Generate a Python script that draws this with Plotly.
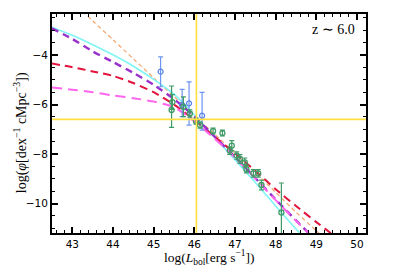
import plotly.graph_objects as go

# ---- data ----
cyan_x = [42.5, 43.0, 43.5, 44.0, 44.5, 45.0, 45.5, 46.0, 46.5, 47.0, 47.5, 48.0, 48.5, 48.8]
cyan_y = [-2.87, -3.20, -3.58, -3.99, -4.45, -4.98, -5.58, -6.42, -7.33, -8.23, -9.15, -10.10, -11.03, -11.55]

purple_x = [42.5, 43.0, 43.5, 44.0, 44.5, 45.0, 45.5, 46.0, 46.5, 47.0, 47.5, 48.0, 48.5, 49.0]
purple_y = [-2.92, -3.35, -3.85, -4.28, -4.72, -5.20, -5.78, -6.48, -7.30, -8.12, -8.97, -9.84, -10.68, -11.50]

orange_x = [43.0, 43.5, 44.0, 44.5, 45.0, 45.5, 46.0, 46.5, 47.0, 47.5, 48.0, 48.5, 49.0, 49.3]
orange_y = [-1.85, -2.62, -3.38, -4.15, -4.92, -5.68, -6.45, -7.20, -7.97, -8.75, -9.55, -10.35, -11.10, -11.55]

crimson_x = [42.5, 43.0, 43.5, 44.0, 44.5, 45.0, 45.5, 46.0, 46.5, 47.0, 47.5, 48.0, 48.5, 49.0, 49.6]
crimson_y = [-4.34, -4.49, -4.66, -4.84, -5.13, -5.50, -6.00, -6.62, -7.30, -7.98, -8.68, -9.42, -10.10, -10.75, -11.5]

pink_x = [42.5, 43.0, 43.5, 44.0, 44.5, 45.0, 45.5, 46.0, 46.5, 47.0, 47.5, 48.0, 48.5, 49.0]
pink_y = [-5.31, -5.40, -5.50, -5.63, -5.74, -5.88, -6.10, -6.68, -7.38, -8.15, -8.99, -9.86, -10.70, -11.52]

blue_x = [45.17, 45.70, 45.87, 46.19]
blue_y = [-4.67, -6.02, -5.95, -6.45]
blue_up = [0.60, 0.63, 0.87, 0.94]
blue_dn = [0.61, 0.47, 0.88, 0.58]

green_x = [45.46, 45.44, 45.73, 45.89, 46.04, 46.14, 46.46, 46.69, 46.92, 46.87, 47.04, 47.12, 47.24, 47.28, 47.45, 47.57, 47.65, 48.14]
green_y = [-5.90, -6.22, -6.09, -6.36, -6.67, -6.83, -7.07, -7.15, -7.66, -7.86, -8.06, -8.20, -8.34, -8.61, -8.78, -8.78, -9.25, -10.36]
green_up = [0.30, 0.97, 0.40, 0.15, 0.12, 0.12, 0.12, 0.12, 0.20, 0.15, 0.15, 0.18, 0.18, 0.15, 0.15, 0.15, 0.20, 1.19]
green_dn = [0.30, 0.70, 0.40, 0.15, 0.12, 0.12, 0.12, 0.12, 0.20, 0.15, 0.15, 0.18, 0.18, 0.15, 0.15, 0.15, 0.20, 1.20]

vline_x = 46.05
hline_y = -6.6
label_text = "z ∼ 6.0"
x_title = "log(<i>L</i><sub>bol</sub>[erg s<sup>−1</sup>])"
y_title = "log(<i>φ</i>[dex<sup>−1</sup> cMpc<sup>−3</sup>])"

fig = go.Figure()

def curve(x, y, color, width, dash):
    fig.add_trace(go.Scatter(x=x, y=y, mode="lines",
                             line=dict(color=color, width=width, dash=dash, shape="spline", smoothing=0.6),
                             hoverinfo="skip", showlegend=False))

curve(orange_x, orange_y, "#F4A46A", 1.2, "4px,3px")
curve(cyan_x, cyan_y, "#7FF5F5", 1.6, "solid")
curve(crimson_x, crimson_y, "#E0143C", 2.0, "8px,5px")
curve(purple_x, purple_y, "#9932CC", 2.4, "7px,5px")
curve(pink_x, pink_y, "#FF66EE", 2.0, "10px,6px")

fig.add_trace(go.Scatter(x=blue_x, y=blue_y, mode="markers",
                         marker=dict(symbol="circle-open", size=5, color="#5580E8", line=dict(width=1.2)),
                         error_y=dict(type="data", array=blue_up, arrayminus=blue_dn, color="#6E95F0",
                                      thickness=1.2, width=2.5),
                         showlegend=False))
fig.add_trace(go.Scatter(x=green_x, y=green_y, mode="markers",
                         marker=dict(symbol="circle-open", size=5, color="#3E9A66", line=dict(width=1.3)),
                         error_y=dict(type="data", array=green_up, arrayminus=green_dn, color="#3E9A66",
                                      thickness=1.2, width=2.5),
                         showlegend=False))

fig.add_shape(type="line", xref="x", yref="paper", x0=vline_x, x1=vline_x, y0=0, y1=1,
              line=dict(color="#FFE040", width=1.6), layer="above")
fig.add_shape(type="line", xref="paper", yref="y", x0=0, x1=1, y0=hline_y, y1=hline_y,
              line=dict(color="#FFE040", width=1.6), layer="above")

fig.add_annotation(x=0.97, y=0.93, xref="paper", yref="paper", text=label_text, showarrow=False,
                   xanchor="right", yanchor="middle",
                   font=dict(family="Liberation Serif, serif", size=14, color="black"))
fig.add_annotation(x=0.5, y=-0.112, xref="paper", yref="paper", text=x_title, showarrow=False,
                   xanchor="center", yanchor="middle",
                   font=dict(family="Liberation Serif, serif", size=13.5, color="black"))
fig.add_annotation(x=-0.102, y=0.46, xref="paper", yref="paper", text=y_title, showarrow=False,
                   xanchor="center", yanchor="middle", textangle=-90,
                   font=dict(family="Liberation Serif, serif", size=14, color="black"))

axis_common = dict(showgrid=False, zeroline=False, showline=True, linecolor="black", linewidth=2,
                   mirror="ticks", ticks="inside", ticklen=6, tickwidth=1.5, tickcolor="black",
                   automargin=False,
                   tickfont=dict(family="DejaVu Sans", size=10.5, color="black"))

fig.update_xaxes(range=[42.5, 50.22], tickmode="array", tickvals=[43, 44, 45, 46, 47, 48, 49, 50],
                 minor=dict(dtick=0.2, ticks="inside", ticklen=3, tickwidth=1, tickcolor="black"),
                 **axis_common)
fig.update_yaxes(range=[-11.19, -2.34], tickmode="array", tickvals=[-10, -8, -6, -4],
                 minor=dict(dtick=0.5, ticks="inside", ticklen=3, tickwidth=1, tickcolor="black"),
                 **axis_common)

# the page body adds an 8px offset, so the figure is 8px smaller with 8px less left/top margin
fig.update_layout(width=391, height=258, margin=dict(l=44, r=33, t=6, b=33),
                  plot_bgcolor="white", paper_bgcolor="white")

fig.write_html("out.html")
